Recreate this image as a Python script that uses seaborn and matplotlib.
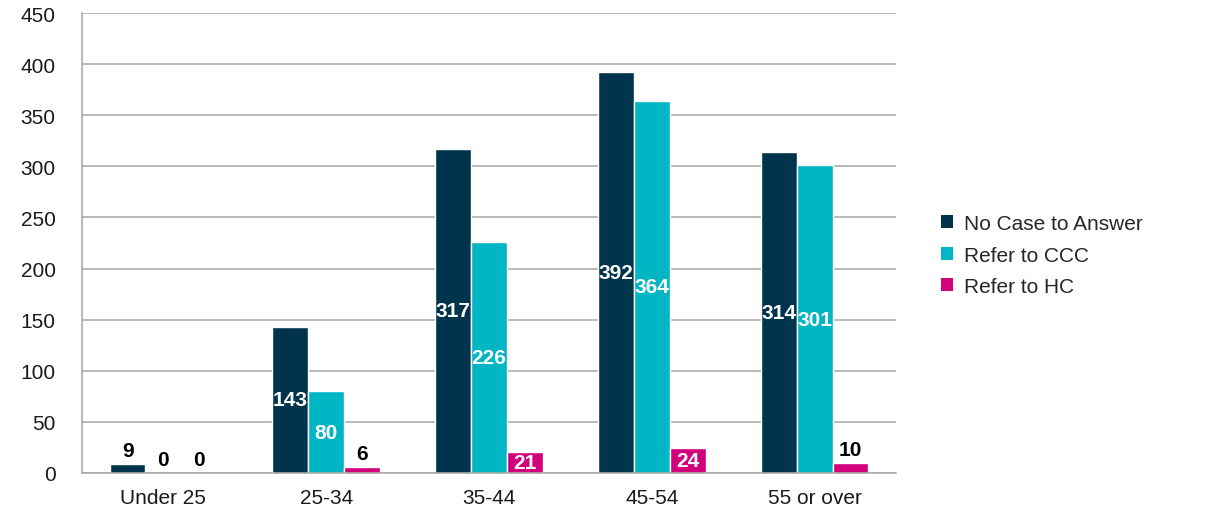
import numpy as np
import pandas as pd
import matplotlib
matplotlib.use("Agg")
import matplotlib.pyplot as plt
from matplotlib.patches import Patch
from matplotlib.path import Path
from matplotlib.ticker import FixedLocator
import seaborn as sns

# Data
age_groups = ["Under 25", "25-34", "35-44", "45-54", "55 or over"]
series_names = ["No Case to Answer", "Refer to CCC", "Refer to HC"]
no_case = [9, 143, 317, 392, 314]
refer_ccc = [0, 80, 226, 364, 301]
refer_hc = [0, 6, 21, 24, 10]
y_ticks = list(range(0, 451, 50))

colors = ["#00344D", "#00B6C5", "#D2007B"]

df = pd.DataFrame({
    "age": age_groups * 3,
    "outcome": np.repeat(series_names, len(age_groups)),
    "count": no_case + refer_ccc + refer_hc,
})

sns.set_style("white")
plt.rcParams["font.family"] = ["Liberation Sans", "DejaVu Sans"]

FS = 15

fig = plt.figure(figsize=(12.27, 5.10), dpi=100)
ax = fig.add_axes([82 / 1227, 36 / 510, (896 - 82) / 1227, (474 - 14) / 510])

sns.barplot(
    data=df, x="age", y="count", hue="outcome",
    order=age_groups, hue_order=series_names, palette=colors,
    width=0.66, gap=0, saturation=1, legend=False, ax=ax,
)

ax.set_xlim(-0.5, len(age_groups) - 0.5)
ax.set_ylim(0, 450)
ax.set_yticks(y_ticks)
ax.yaxis.grid(True, color="#A6A6A6", linewidth=1.1)
ax.set_axisbelow(True)
ax.set_xlabel("")
ax.set_ylabel("")

for side in ["top", "right"]:
    ax.spines[side].set_visible(False)
for side in ["left", "bottom"]:
    ax.spines[side].set_color("#A6A6A6")
    ax.spines[side].set_linewidth(1.1)

ax.tick_params(axis="y", length=9, width=1.1, color="#A6A6A6",
               labelsize=FS, labelcolor="#1A1A1A", pad=10)
ax.tick_params(axis="x", which="major", length=0, labelsize=FS,
               labelcolor="#1A1A1A", pad=11)
ax.xaxis.set_minor_locator(FixedLocator(np.arange(-0.5, len(age_groups), 1.0)))
ax.tick_params(axis="x", which="minor", length=5, width=1.1, color="#A6A6A6")

# data labels: white in the middle of tall bars, black above the short ones
values = [no_case, refer_ccc, refer_hc]
for i in range(len(age_groups)):
    group = [ax.containers[h][i] for h in range(len(series_names))]
    clip = Path.make_compound_path(
        *[p.get_path().transformed(p.get_patch_transform()) for p in group]
    )
    for h, bar in enumerate(group):
        v = values[h][i]
        xc = bar.get_x() + bar.get_width() / 2
        if v > 10:
            t = ax.text(xc, v / 2, str(v), ha="center", va="center",
                        color="white", fontsize=FS, fontweight="bold")
            t.set_clip_path(clip, ax.transData)
        else:
            ax.annotate(str(v), (xc, v), xytext=(0, 3), textcoords="offset points",
                        ha="center", va="bottom", color="black",
                        fontsize=FS, fontweight="bold")

handles = [Patch(facecolor=c, edgecolor="none") for c in colors]
fig.legend(handles, series_names, loc="center left",
           bbox_to_anchor=(922 / 1227, 1 - 256 / 510), frameon=False,
           fontsize=FS, handlelength=0.6, handleheight=0.6,
           handletextpad=0.5, labelspacing=0.6)

fig.savefig("out.png", dpi=100)
